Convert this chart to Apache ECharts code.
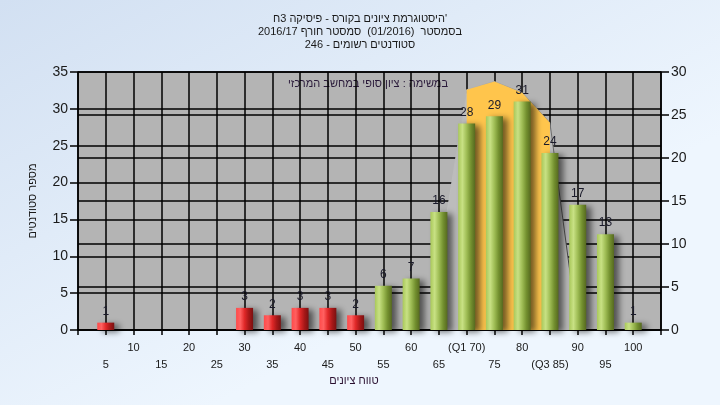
<!DOCTYPE html>
<html><head><meta charset="utf-8">
<script src="https://cdn.jsdelivr.net/npm/echarts@6/dist/echarts.min.js"></script>
<style>html,body{margin:0;padding:0;background:#e6eff9;}#c{width:720px;height:405px;}</style>
</head><body><div id="c"></div>
<script>
const titleLines = ["היסטוגרמת ציונים בקורס - פיסיקה 3ח'", "בסמסטר  (01/2016)  סמסטר חורף 2016/17", "סטודנטים רשומים - 246"];
const legendText = "במשימה : ציון סופי במחשב המרכזי";
const yAxisName = "מספר סטודנטים";
const xAxisName = "טווח ציונים";
const categories = [5,10,15,20,25,30,35,40,45,50,55,60,65,70,75,80,85,90,95,100];
const tickLabels = ['5','10','15','20','25','30','35','40','45','50','55','60','65','(Q1 70)','75','80','(Q3 85)','90','95','100'];
const counts = [1,0,0,0,0,3,2,3,3,2,6,7,16,28,29,31,24,17,13,1];
const passMark = 55;
const iqrX = [70,75,80,85];
const iqrY = [32.6,33.7,32.2,28.1];
const bandX = [65,70,75,80,85,90];
const bandY = [9,32.6,33.7,32.2,28.1,0];
const leftMax = 35, rightMax = 30, yStep = 5;

const FONT = '"Liberation Sans", "DejaVu Sans", Arial, sans-serif';
const chart = echarts.init(document.getElementById('c'));

function grad(stops){
  return new echarts.graphic.LinearGradient(0,0,1,0, stops.map((c,i)=>({offset:i/(stops.length-1), color:c})));
}
const redGrad = grad(['#ff4a4a','#ff6060','#e02828','#a81818','#7a1010']);
const greenGrad = grad(['#a9c85a','#c8e184','#9fbd55','#73902f','#56691f']);

const barData = categories.map((c,i)=>({
  value:[c, counts[i]],
  itemStyle:{color: c < passMark ? redGrad : greenGrad}
}));

chart.setOption({
  backgroundColor: new echarts.graphic.LinearGradient(0,0,0.3,1,[{offset:0,color:'#d2e0f2'},{offset:1,color:'#eef6fe'}]),
  animation:false,
  textStyle:{fontFamily:FONT},
  title:{
    text: titleLines.join('\n'),
    left:'center', top:7,
    textStyle:{fontSize:11, lineHeight:13, fontWeight:'normal', color:'#1a1a1a', fontFamily:FONT}
  },
  grid:{left:78, right:59, top:72, bottom:75, show:true, backgroundColor:'#b4b4b4', borderWidth:0},
  xAxis:{
    type:'value', min:0, max:105, interval:5,
    axisLine:{show:true, onZero:false, lineStyle:{color:'#000', width:1.5}},
    axisTick:{show:true, length:5, lineStyle:{color:'#000', width:1.5}},
    splitLine:{show:true, lineStyle:{color:'#000', width:1.5}},
    axisLabel:{
      margin:9, fontSize:11, lineHeight:17, color:'#1a1a1a', fontFamily:FONT,
      showMinLabel:true, showMaxLabel:true,
      formatter:(v)=>{ const i = categories.indexOf(v); if(i<0) return ''; return (i%2===0 ? '\n' : '') + tickLabels[i]; }
    }
  },
  yAxis:[{
    type:'value', min:0, max:leftMax, interval:yStep, position:'left',
    name:yAxisName, nameLocation:'middle', nameGap:40,
    nameTextStyle:{fontSize:11, color:'#1a1a1a', fontFamily:FONT},
    axisLine:{show:true, lineStyle:{color:'#000', width:1.5}},
    axisTick:{show:true, length:8, lineStyle:{color:'#000', width:1.5}},
    splitLine:{show:true, lineStyle:{color:'#000', width:1.5}},
    axisLabel:{margin:10, fontSize:14, color:'#1a1a1a', fontFamily:FONT}
  },{
    type:'value', min:0, max:rightMax, interval:yStep, position:'right',
    axisLine:{show:true, lineStyle:{color:'#000', width:1.5}},
    axisTick:{show:true, length:8, lineStyle:{color:'#000', width:1.5}},
    splitLine:{show:true, lineStyle:{color:'#000', width:1.5}},
    axisLabel:{margin:10, fontSize:14, color:'#1a1a1a', fontFamily:FONT}
  }],
  graphic:[
    {type:'text', style:{text:legendText, x:368, y:84, align:'center', verticalAlign:'middle', fill:'#2a1a3a', font:'11px '+FONT}},
    {type:'text', style:{text:xAxisName, x:354, y:381, align:'center', verticalAlign:'middle', fill:'#2a1030', font:'11px '+FONT}}
  ],
  series:[
    {
      type:'line', yAxisIndex:0, symbol:'none', z:1,
      data: bandX.map((x,i)=>[x,bandY[i]]),
      lineStyle:{width:1, color: new echarts.graphic.LinearGradient(0,0,1,0,[{offset:0,color:'#c6c6c6'},{offset:0.7,color:'#8a8a8a'},{offset:1,color:'#303030'}])},
      areaStyle:{color:'#bcbcbc', opacity:1}
    },
    {
      type:'line', yAxisIndex:0, symbol:'none', z:2,
      data: iqrX.map((x,i)=>[x,iqrY[i]]),
      lineStyle:{width:0, color:'#ffc54c'},
      areaStyle:{color:'#ffc54c', opacity:1}
    },
    {
      type:'bar', yAxisIndex:0, barWidth:17, z:3,
      data: barData,
      itemStyle:{shadowColor:'rgba(0,0,0,0.55)', shadowBlur:6, shadowOffsetX:5, shadowOffsetY:2},
      label:{show:true, position:'top', distance:5, fontSize:12, color:'#1a1a2a', fontFamily:FONT,
        formatter:(p)=> p.value[1] > 0 ? String(p.value[1]) : ''}
    }
  ]
});
</script></body></html>
